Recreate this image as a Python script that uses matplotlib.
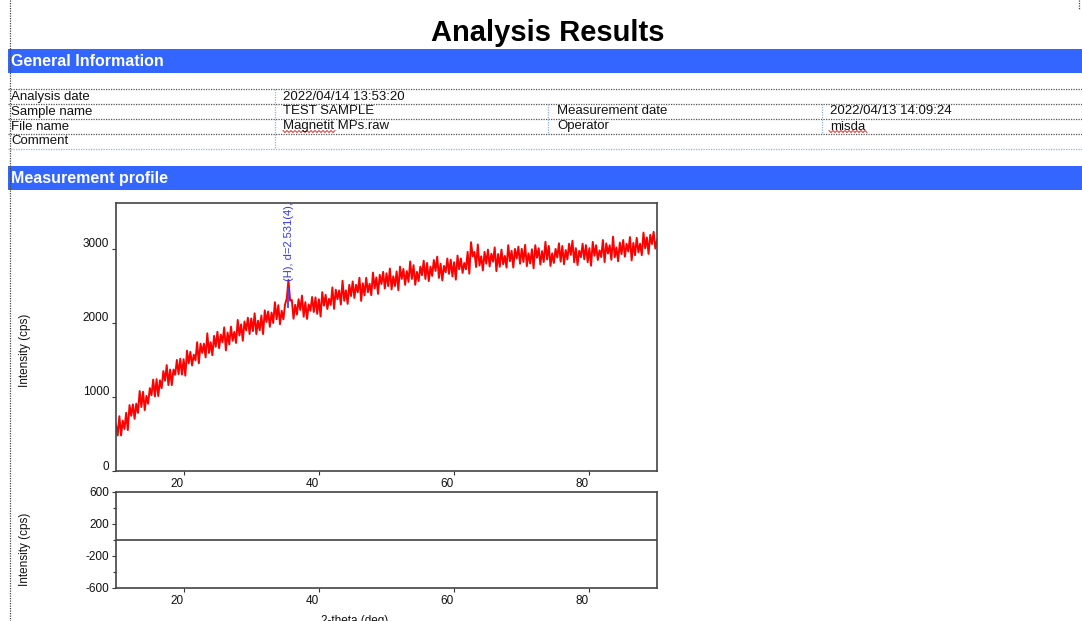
import numpy as np
import matplotlib
matplotlib.use("Agg")
import matplotlib.pyplot as plt
from matplotlib import transforms as mtransforms
from matplotlib.ticker import FixedLocator

plt.rcParams['font.family'] = ['Liberation Sans', 'DejaVu Sans']
plt.rcParams['axes.unicode_minus'] = False

# ---------------- data ----------------
title = "Analysis Results"
section_titles = ["General Information", "Measurement profile"]
info_labels = ["Analysis date", "Sample name", "File name", "Comment"]
info_values = ["2022/04/14 13:53:20", "TEST SAMPLE", "Magnetit MPs.raw", ""]
info_labels2 = ["", "Measurement date", "Operator", ""]
info_values2 = ["", "2022/04/13 14:09:24", "misda", ""]

two_theta_start = 10.0
two_theta_step = 0.25
intensity = [
    630, 480, 740, 480,     680, 568, 785, 553,     890, 745, 900, 705,
    910, 785, 1080, 865,    1070, 823, 1015, 908,   1120, 1023, 1235, 1008,
    1240, 1013, 1225, 1118, 1350, 1220, 1430, 1160, 1370, 1160, 1370, 1300,
    1500, 1308, 1515, 1303, 1510, 1288, 1625, 1453, 1610, 1425, 1570, 1495,
    1740, 1455, 1720, 1595, 1720, 1535, 1860, 1595, 1740, 1563, 1825, 1678,
    1880, 1660, 1840, 1740, 1940, 1630, 1870, 1710, 1950, 1760, 1880, 1730,
    2040, 1830, 1980, 1760, 2020, 1900, 2070, 1850, 2060, 1890, 2130, 1850,
    2030, 1900, 2100, 1850, 2170, 2013, 2155, 1948, 2140, 2000, 2280, 2050,
    2240, 1983, 2165, 2048, 2250, 2330, 2580, 2300, 2310, 2058, 2245, 2113,
    2320, 2175, 2370, 2085, 2280, 2055, 2250, 2165, 2350, 2148, 2345, 2123,
    2320, 2088, 2415, 2233, 2380, 2188, 2325, 2243, 2480, 2190, 2450, 2320,
    2440, 2250, 2570, 2300, 2440, 2258, 2515, 2363, 2560, 2338, 2515, 2413,
    2610, 2298, 2535, 2373, 2610, 2415, 2530, 2375, 2680, 2468, 2615, 2393,
    2650, 2525, 2690, 2465, 2670, 2498, 2735, 2453, 2630, 2498, 2695, 2443,
    2760, 2595, 2730, 2515, 2700, 2555, 2830, 2595, 2780, 2515, 2690, 2565,
    2760, 2645, 2840, 2595, 2810, 2565, 2760, 2635, 2850, 2703, 2895, 2608,
    2800, 2575, 2770, 2685, 2870, 2663, 2855, 2628, 2820, 2585, 2910, 2725,
    2870, 2675, 2810, 2725, 2960, 2665, 3090, 2900, 2960, 2755, 3060, 2775,
    2900, 2710, 2960, 2800, 2990, 2763, 2935, 2828, 3020, 2700, 2930, 2760,
    2990, 2793, 2905, 2748, 3050, 2833, 2975, 2748, 3000, 2870, 3030, 2800,
    3000, 2823, 3055, 2768, 2940, 2803, 2995, 2738, 3050, 2880, 3010, 2790,
    2970, 2823, 3095, 2858, 3040, 2770, 2940, 2810, 3000, 2883, 3075, 2828,
    3040, 2793, 2985, 2858, 3070, 2920, 3110, 2820, 3010, 2783, 2975, 2888,
    3070, 2860, 3050, 2820, 3010, 2773, 3095, 2908, 3050, 2850, 2980, 2890,
    3120, 2823, 3075, 2938, 3050, 2853, 3165, 2888, 3020, 2833, 3085, 2928,
    3120, 2895, 3070, 2965, 3160, 2845, 3080, 2915, 3150, 2955, 3070, 2915,
    3220, 3008, 3155, 2933, 3190, 3065, 3230, 3005, 3120,
]
two_theta = two_theta_start + two_theta_step * np.arange(len(intensity))

peak_pos = 35.45
peak_marker = [2210, 2460]
peak_label = "(H), d=2.531(4), 2-theta=35.44(6)"

residual_x = [10, 90]
residual_y = [0, 0]

main_xticks = [20, 40, 60, 80]
main_yticks = [0, 1000, 2000, 3000]
res_yticks = [600, 200, -200, -600]
res_yminor = [400, 0, -400]

# ---------------- figure ----------------
W, H = 1082, 621
fig = plt.figure(figsize=(W / 100, H / 100), dpi=100)
bg = fig.add_axes([0, 0, 1, 1])
bg.set_xlim(0, W)
bg.set_ylim(H, 0)
bg.axis('off')

blue = '#3366ff'
dark = '#111111'

# page margin
bg.plot([10, 10], [0, H], color='#444444', lw=0.9, ls=(0, (1, 1)))
bg.plot([1079, 1079], [0, 10], color='#444444', lw=0.9, ls=(0, (1, 1)))

# title
bg.text(548, 41, title, ha='center', va='baseline', fontsize=21,
        fontweight='bold', color='black')

# section bars
for y0, txt in zip([48.5, 165.5], section_titles):
    bg.add_patch(plt.Rectangle((8, y0), W - 8, 24, color=blue, lw=0))
    bg.text(11, y0 + 17.5, txt, ha='left', va='baseline', fontsize=11.5,
            fontweight='bold', color='white')

# table lines
for yy in [89, 104, 119, 134]:
    bg.plot([8, W], [yy, yy], color='#555555', lw=0.9, ls=(0, (1, 1)))
bg.plot([8, W], [149, 149], color='#8fb0e8', lw=0.9, ls=(0, (1, 1)))
bg.plot([275, 275], [89, 149], color='#8fb0e8', lw=0.9, ls=(0, (1, 1)))
for xx in [548, 822]:
    bg.plot([xx, xx], [104, 134], color='#8fb0e8', lw=0.9, ls=(0, (1, 1)))

baselines = [100, 114.5, 129.5, 144]
for i, yb in enumerate(baselines):
    bg.text(11, yb, info_labels[i], fontsize=9.5, va='baseline', color=dark)
    bg.text(283, yb, info_values[i], fontsize=9.5, va='baseline', color=dark)
    bg.text(557, yb, info_labels2[i], fontsize=9.5, va='baseline', color=dark)
    bg.text(830, yb, info_values2[i], fontsize=9.5, va='baseline', color=dark)

# spell-check squiggles
for x0, x1 in [(283, 336), (829, 867)]:
    xs = np.arange(x0, x1 + 1, 2.0)
    ys = 131.5 + np.where(np.arange(len(xs)) % 2 == 0, -1.0, 1.0)
    bg.plot(xs, ys, color='#e03030', lw=0.7)

# ---------------- profile axes ----------------
tick_kw = dict(direction='out', length=3, width=0.8, labelsize=8.5,
               pad=2, color='#333333', labelcolor=dark)
xoff = mtransforms.ScaledTranslation(-7 / 100, 0, fig.dpi_scale_trans)
yoff = mtransforms.ScaledTranslation(0, 6 / 100, fig.dpi_scale_trans)


def style(ax, shift_y=False):
    for s in ax.spines.values():
        s.set_color('#444444')
        s.set_linewidth(1.2)
    ax.tick_params(**tick_kw)
    for t in ax.xaxis.get_major_ticks():
        t.label1.set_transform(t.label1.get_transform() + xoff)
    if shift_y:
        for t in ax.yaxis.get_major_ticks():
            t.label1.set_transform(t.label1.get_transform() + yoff)


ax = fig.add_axes([116 / W, (H - 471) / H, 541 / W, 268 / H])
ax.plot(two_theta, intensity, color='#ff0000', lw=1.4)
ax.plot([peak_pos, peak_pos], peak_marker, color='#4040ff', lw=1.3)
ax.text(peak_pos + 0.15, 2570, peak_label, rotation=90, color='#3333ee',
        fontsize=8, ha='center', va='bottom', clip_on=True)
ax.set_xlim(10, 90)
ax.set_ylim(0, 3620)
ax.set_xticks(main_xticks)
ax.set_yticks(main_yticks)
style(ax, shift_y=True)

ax2 = fig.add_axes([116 / W, (H - 588) / H, 541 / W, 96 / H])
ax2.plot(residual_x, residual_y, color='#444444', lw=1.2)
ax2.set_xlim(10, 90)
ax2.set_ylim(-600, 600)
ax2.set_xticks(main_xticks)
ax2.set_yticks(res_yticks)
ax2.yaxis.set_minor_locator(FixedLocator(res_yminor))
ax2.tick_params(axis='y', which='minor', direction='out', length=2,
                width=0.8, color='#333333')
style(ax2)

bg.text(25, 350, "Intensity (cps)", rotation=90, ha='center', va='center',
        fontsize=8.5, color=dark)
bg.text(25, 549, "Intensity (cps)", rotation=90, ha='center', va='center',
        fontsize=8.5, color=dark)
bg.text(355, 615, "2-theta (deg)", ha='center', va='top', fontsize=8.5,
        color=dark)

fig.savefig("out.png", dpi=100)
